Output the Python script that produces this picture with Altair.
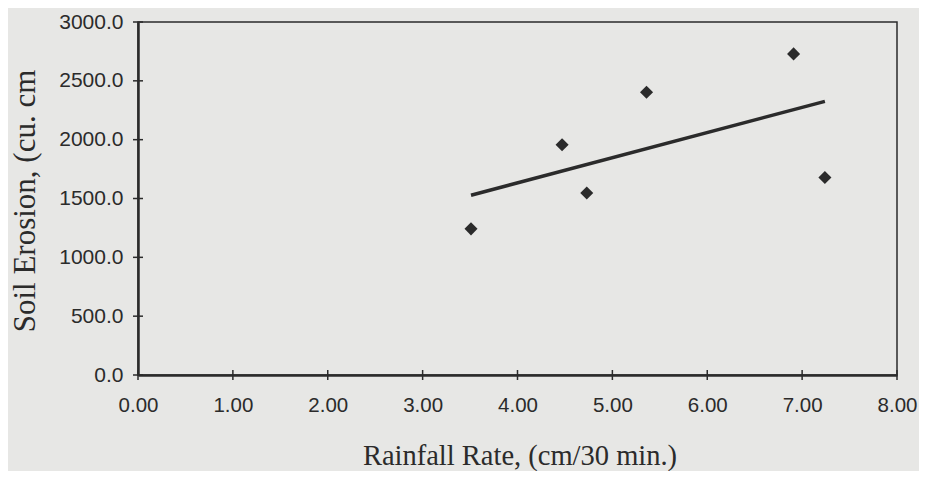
import altair as alt
import pandas as pd

# Data read from the (slightly rotated) scanned chart
rain = [3.51, 4.47, 4.73, 5.36, 6.91, 7.24]
erosion = [1242, 1956, 1547, 2403, 2729, 1678]

x_ticks = [0, 1, 2, 3, 4, 5, 6, 7, 8]
y_ticks = [0, 500, 1000, 1500, 2000, 2500, 3000]

x_title = "Rainfall Rate, (cm/30 min.)"
y_title = "Soil Erosion, (cu. cm"

INK = "#2b2b2b"
PAPER = "#e7e7e5"
W, H = 759, 353

df = pd.DataFrame({"rain": rain, "erosion": erosion})
xt_df = pd.DataFrame({"t": x_ticks})
yt_df = pd.DataFrame({"t": y_ticks})

x_scale = alt.Scale(domain=[0, 8], nice=False, zero=True)
y_scale = alt.Scale(domain=[0, 3000], nice=False, zero=True)

x_axis = alt.Axis(
    values=x_ticks, format=".2f", title=x_title, grid=False, ticks=False, tickSize=0,
    labelFlush=False, labelPadding=20, labelFont="Liberation Sans", labelFontSize=20.5,
    labelColor=INK, domainColor=INK, domainWidth=2.5, titleFont="Liberation Serif",
    titleFontSize=28.5, titleFontWeight="normal", titleColor=INK, titleX=W / 2 + 2,
    titleY=80, titleBaseline="middle", titleAlign="center",
)
y_axis = alt.Axis(
    values=y_ticks, format=".1f", title=y_title, grid=False, ticks=False, tickSize=0,
    labelFlush=False, labelPadding=15, labelFont="Liberation Sans", labelFontSize=21,
    labelColor=INK, domainColor=INK, domainWidth=2.5, titleFont="Liberation Serif",
    titleFontSize=31, titleFontWeight="normal", titleColor=INK, titleX=-113,
    titleY=H / 2 + 2, titleAngle=-90, titleBaseline="middle", titleAlign="center",
)

base = alt.Chart(df).encode(
    x=alt.X("rain:Q", scale=x_scale, axis=x_axis),
    y=alt.Y("erosion:Q", scale=y_scale, axis=y_axis),
)

points = base.mark_point(shape="diamond", filled=True, size=170, color=INK, opacity=1)
trend = base.transform_regression("rain", "erosion").mark_line(color=INK, strokeWidth=3.5)

x_tick_marks = alt.Chart(xt_df).mark_tick(
    orient="vertical", size=10, thickness=1.5, color=INK, opacity=1
).encode(
    x=alt.X("t:Q", scale=x_scale, axis=x_axis),
    y=alt.YDatum(0, type="quantitative", scale=y_scale, axis=y_axis),
)
y_tick_marks = alt.Chart(yt_df).mark_tick(
    orient="horizontal", size=10, thickness=1.5, color=INK, opacity=1
).encode(
    y=alt.Y("t:Q", scale=y_scale, axis=y_axis),
    x=alt.XDatum(0, type="quantitative", scale=x_scale, axis=x_axis),
)

chart = (
    alt.layer(x_tick_marks, y_tick_marks, trend, points)
    .properties(
        width=W,
        height=H,
        autosize=alt.AutoSizeParams(type="none"),
        padding={"left": 130, "top": 14, "right": 22, "bottom": 96},
        background=PAPER,
    )
    .configure_view(stroke=INK, strokeWidth=1.5, fill=PAPER)
)

chart.save("out.html", embed_options={"renderer": "svg", "actions": False})
